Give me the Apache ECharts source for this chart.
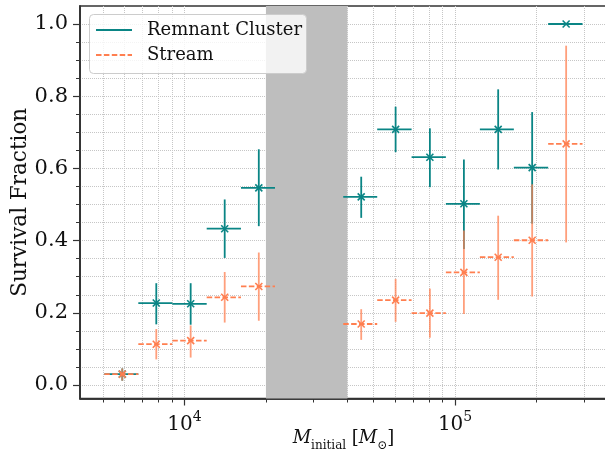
<!DOCTYPE html>
<html>
<head>
<meta charset="utf-8">
<title>Survival Fraction vs initial mass</title>
<script src="https://cdn.jsdelivr.net/npm/echarts@6/dist/echarts.min.js"></script>
<style>
  html, body { margin: 0; padding: 0; background: #ffffff; }
  #chart { width: 605px; height: 455px; }
</style>
</head>
<body>
<div id="chart"></div>
<script>
// Bin centres and bin edges in initial cluster mass (M_sun)
const massCentre = [5890, 7866, 10540, 14080, 18820, 44990, 60290, 80700, 107800, 144300, 192700, 257300];
const massLow    = [5055, 6751, 9015, 12080, 16170, 38610, 51550, 69070, 92470, 123500, 164900, 220800];
const massHigh   = [6751, 9015, 12080, 16170, 21600, 51550, 69070, 92470, 123500, 164900, 220800, 295800];

// Remnant cluster survival fraction with lower / upper uncertainty bounds
const remnantFrac = [0.030, 0.227, 0.225, 0.433, 0.546, 0.521, 0.708, 0.631, 0.502, 0.708, 0.602, 1.000];
const remnantLow  = [0.012, 0.168, 0.167, 0.352, 0.440, 0.463, 0.645, 0.548, 0.377, 0.597, 0.447, 1.000];
const remnantHigh = [0.046, 0.282, 0.282, 0.514, 0.653, 0.577, 0.771, 0.711, 0.625, 0.819, 0.756, 1.000];

// Stream survival fraction with lower / upper uncertainty bounds
const streamFrac = [0.030, 0.113, 0.123, 0.243, 0.273, 0.169, 0.235, 0.199, 0.312, 0.354, 0.401, 0.668];
const streamLow  = [0.012, 0.071, 0.076, 0.173, 0.178, 0.125, 0.175, 0.131, 0.197, 0.236, 0.245, 0.395];
const streamHigh = [0.046, 0.155, 0.165, 0.313, 0.367, 0.210, 0.294, 0.267, 0.428, 0.469, 0.556, 0.940];

// Shaded mass range without data
const gapBand = [20000, 40000];

// Axis ranges and ticks
const xMin = 4110, xMax = 364300;
const yMin = -0.0374, yMax = 1.0499;
const xMajorTicks = [1e4, 1e5];
const yMajorTicks = [0.0, 0.2, 0.4, 0.6, 0.8, 1.0];

const xMinorTicks = [];
for (let d = 3; d <= 5; d++) {
  for (let m = 2; m <= 9; m++) {
    const v = m * Math.pow(10, d);
    if (v > xMin && v < xMax) xMinorTicks.push(v);
  }
}
const yMinorTicks = [];
for (let k = -1; k <= 21; k++) {
  if (k % 4 === 0) continue;
  const v = Math.round(k * 5) / 100;
  if (v > yMin && v < yMax) yMinorTicks.push(v);
}

const TEAL = '#0a8585';
const CORAL = '#ff7f50';
const SERIF = 'DejaVu Serif';
const AXIS_COLOR = '#333333';
const GRID_LINE = { type: 'dotted', color: '#c6c6c6', width: 1 };

function rows(frac, lo, hi) {
  return massCentre.map((m, i) => [m, frac[i], massLow[i], massHigh[i], lo[i], hi[i]]);
}

function errorBarRenderer(color, dashed) {
  return function (params, api) {
    const x = api.value(0), y = api.value(1);
    const c = api.coord([x, y]);
    const l = api.coord([api.value(2), y]);
    const r = api.coord([api.value(3), y]);
    const b = api.coord([x, api.value(4)]);
    const t = api.coord([x, api.value(5)]);
    const s = 3.5;
    const children = [];
    if (Math.abs(t[1] - b[1]) > 0.5) {
      children.push({
        type: 'line',
        shape: { x1: c[0], y1: b[1], x2: c[0], y2: t[1] },
        style: { stroke: color, lineWidth: 1.8, opacity: dashed ? 0.75 : 1 }
      });
    }
    children.push({
      type: 'line',
      shape: { x1: l[0], y1: c[1], x2: r[0], y2: c[1] },
      style: { stroke: color, lineWidth: 1.8, lineDash: dashed ? [5.5, 2.4] : null }
    });
    children.push({
      type: 'line',
      shape: { x1: c[0] - s, y1: c[1] - s, x2: c[0] + s, y2: c[1] + s },
      style: { stroke: color, lineWidth: 1.6 }
    });
    children.push({
      type: 'line',
      shape: { x1: c[0] - s, y1: c[1] + s, x2: c[0] + s, y2: c[1] - s },
      style: { stroke: color, lineWidth: 1.6 }
    });
    return { type: 'group', children: children };
  };
}

const chart = echarts.init(document.getElementById('chart'), null, { renderer: 'canvas' });

const baseLabelStyle = { fontFamily: SERIF, fontSize: 21, color: '#111' };

chart.setOption({
  animation: false,
  backgroundColor: '#ffffff',
  textStyle: { fontFamily: SERIF },
  grid: {
    left: 80, top: 6, right: -2, bottom: 56.5,
    containLabel: false,
    outerBoundsMode: 'none',
    show: true,
    borderColor: AXIS_COLOR,
    borderWidth: 1.5,
    backgroundColor: 'transparent'
  },
  xAxis: [
    {
      type: 'log', logBase: 10, min: xMin, max: xMax, position: 'bottom',
      axisLine: { show: true, onZero: false, lineStyle: { color: AXIS_COLOR, width: 1.5 } },
      axisTick: { show: true, customValues: xMinorTicks, length: 4, lineStyle: { color: AXIS_COLOR, width: 1 } },
      axisLabel: { show: false },
      splitLine: { show: true, lineStyle: GRID_LINE },
      minorTick: { show: false }, minorSplitLine: { show: false }
    },
    {
      type: 'log', logBase: 10, min: xMin, max: xMax, position: 'bottom',
      axisLine: { show: true, onZero: false, lineStyle: { color: AXIS_COLOR, width: 1.5 } },
      axisTick: { show: true, customValues: xMajorTicks, length: 7, lineStyle: { color: AXIS_COLOR, width: 1.2 } },
      axisLabel: {
        show: true, customValues: xMajorTicks, margin: 12,
        formatter: v => '{b|10}{s|' + Math.round(Math.log10(v)) + '}',
        rich: {
          b: { fontFamily: SERIF, fontSize: 20, color: '#111', verticalAlign: 'bottom', lineHeight: 24 },
          s: { fontFamily: SERIF, fontSize: 14, color: '#111', verticalAlign: 'top', lineHeight: 24, padding: [0, 0, 10, 0] }
        }
      },
      splitLine: { show: true, lineStyle: GRID_LINE },
      name: '{i|M}{sub|initial}{n| [}{i|M}{sub|⊙}{n|]}',
      nameLocation: 'middle',
      nameGap: 38,
      nameMoveOverlap: false,
      nameTextStyle: {
        verticalAlign: 'middle',
        rich: {
          i: { fontFamily: SERIF, fontStyle: 'italic', fontSize: 18, color: '#111', verticalAlign: 'bottom', lineHeight: 22 },
          n: { fontFamily: SERIF, fontSize: 18, color: '#111', verticalAlign: 'bottom', lineHeight: 22 },
          sub: { fontFamily: SERIF, fontSize: 12, color: '#111', verticalAlign: 'bottom', lineHeight: 22, padding: [0, 0, -4, 0] }
        }
      }
    }
  ],
  yAxis: [
    {
      type: 'value', min: yMin, max: yMax, position: 'left',
      axisLine: { show: true, onZero: false, lineStyle: { color: AXIS_COLOR, width: 1.5 } },
      axisTick: { show: true, customValues: yMinorTicks, length: 4, lineStyle: { color: AXIS_COLOR, width: 1 } },
      axisLabel: { show: false },
      splitLine: { show: true, lineStyle: GRID_LINE }
    },
    {
      type: 'value', min: yMin, max: yMax, position: 'left',
      axisLine: { show: true, onZero: false, lineStyle: { color: AXIS_COLOR, width: 1.5 } },
      axisTick: { show: true, customValues: yMajorTicks, length: 7, lineStyle: { color: AXIS_COLOR, width: 1.2 } },
      axisLabel: { show: true, customValues: yMajorTicks, margin: 12, formatter: v => v.toFixed(1), ...baseLabelStyle },
      splitLine: { show: true, lineStyle: GRID_LINE },
      name: 'Survival Fraction',
      nameLocation: 'middle',
      nameRotate: 90,
      nameGap: 60,
      nameMoveOverlap: false,
      nameTextStyle: { fontFamily: SERIF, fontSize: 21.5, color: '#111', verticalAlign: 'middle' }
    }
  ],
  series: [
    {
      name: 'Remnant Cluster',
      type: 'custom',
      xAxisIndex: 0, yAxisIndex: 0,
      renderItem: errorBarRenderer(TEAL, false),
      encode: { x: [0, 2, 3], y: [1, 4, 5] },
      data: rows(remnantFrac, remnantLow, remnantHigh),
      clip: false,
      z: 3,
      markArea: {
        silent: true,
        itemStyle: { color: '#bebebe', opacity: 1 },
        data: [[{ xAxis: gapBand[0] }, { xAxis: gapBand[1] }]]
      }
    },
    {
      name: 'Stream',
      type: 'custom',
      xAxisIndex: 0, yAxisIndex: 0,
      renderItem: errorBarRenderer(CORAL, true),
      encode: { x: [0, 2, 3], y: [1, 4, 5] },
      data: rows(streamFrac, streamLow, streamHigh),
      clip: false,
      z: 4
    }
  ],
  graphic: [
    { type: 'rect', z: 100, shape: { x: 89.5, y: 14.5, width: 217, height: 59, r: 4 },
      style: { fill: 'rgba(255,255,255,0.8)', stroke: '#cccccc', lineWidth: 1 } },
    { type: 'line', z: 101, shape: { x1: 96, y1: 30, x2: 132, y2: 30 },
      style: { stroke: TEAL, lineWidth: 1.8 } },
    { type: 'line', z: 101, shape: { x1: 96, y1: 55, x2: 132, y2: 55 },
      style: { stroke: CORAL, lineWidth: 1.8, lineDash: [5.5, 2.4] } },
    { type: 'text', z: 101, style: { x: 147, y: 30, text: 'Remnant Cluster', font: '18px "DejaVu Serif"',
      fill: '#111', verticalAlign: 'middle' } },
    { type: 'text', z: 101, style: { x: 147, y: 55, text: 'Stream', font: '18px "DejaVu Serif"',
      fill: '#111', verticalAlign: 'middle' } }
  ]
});
</script>
</body>
</html>
